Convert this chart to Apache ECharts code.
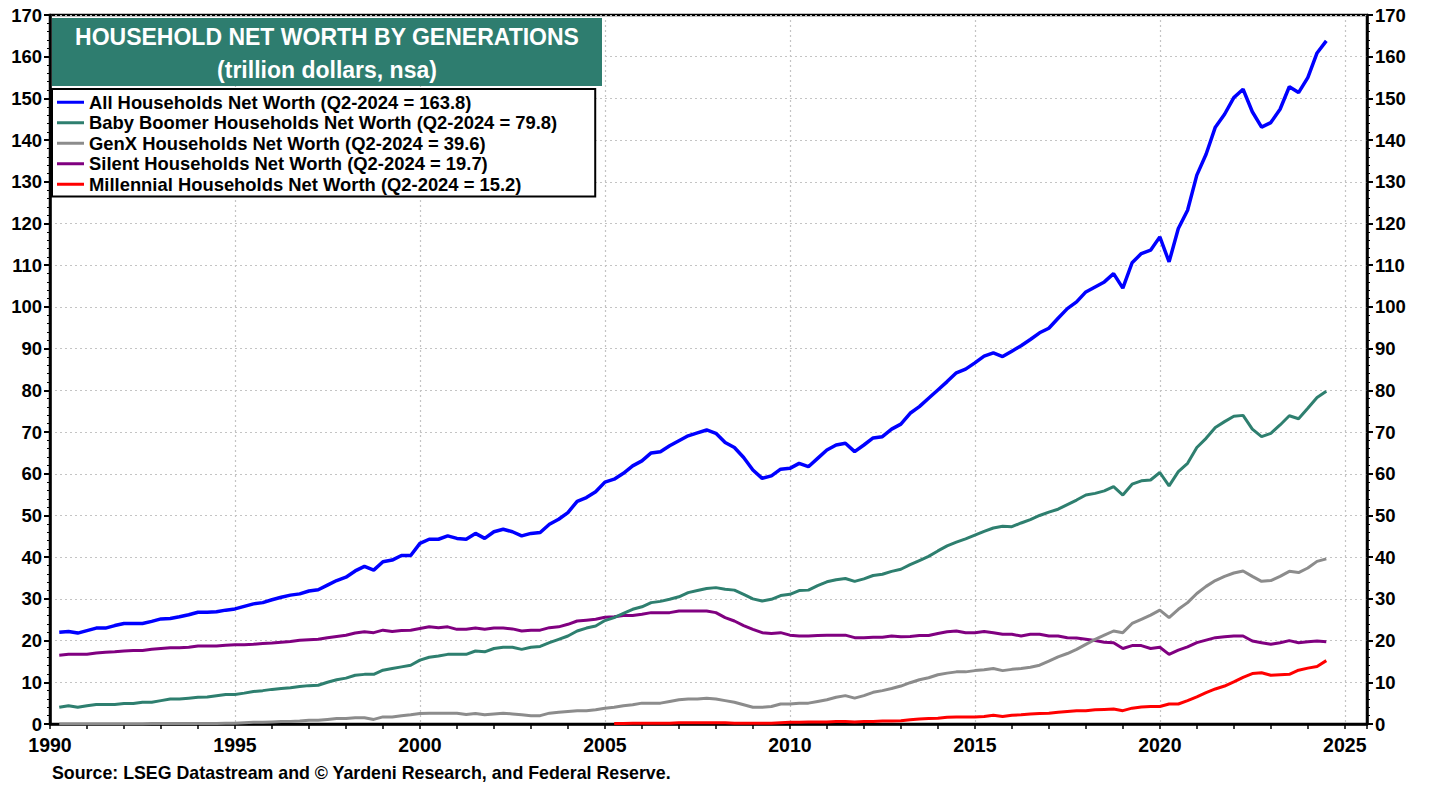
<!DOCTYPE html>
<html>
<head>
<meta charset="UTF-8">
<title>Household Net Worth by Generations</title>
<script src="https://cdn.jsdelivr.net/npm/echarts@6/dist/echarts.min.js"></script>
<style>
  html, body { margin: 0; padding: 0; background: #fff; }
  #main { width: 1438px; height: 787px; }
</style>
</head>
<body>
<div id="main"></div>
<script>
// quarterly values, trillion dollars, first value = Q1 of start year
var startYear = 1990;
var allHouseholds = [
  22.0, 22.2, 21.8, 22.4,  23.0, 23.0, 23.6, 24.1,  24.1, 24.1, 24.6, 25.2,  25.3, 25.7, 26.2, 26.8,
  26.8, 26.9, 27.3, 27.6,  28.2, 28.8, 29.1, 29.8,  30.4, 30.9, 31.2, 31.9,  32.2, 33.3, 34.4, 35.2,
  36.7, 37.8, 36.9, 38.9,  39.3, 40.4, 40.4, 43.3,  44.3, 44.3, 45.1, 44.5,  44.3, 45.7, 44.5, 46.1,
  46.7, 46.1, 45.1, 45.7,  45.9, 47.9, 49.1, 50.7,  53.4, 54.3, 55.7, 58.0,  58.7, 60.1, 61.9, 63.1,
  65.0, 65.3, 66.7, 67.9,  69.1, 69.8, 70.5, 69.7,  67.5, 66.3, 63.9, 60.9,  58.9, 59.5, 61.1, 61.3,
  62.5, 61.7, 63.7, 65.7,  66.9, 67.3, 65.3, 66.9,  68.6, 68.9, 70.7, 71.9,  74.5, 76.1, 78.1, 80.1,
  82.1, 84.2, 85.1, 86.6,  88.2, 89.0, 88.1, 89.4,  90.7, 92.2, 93.8, 94.9,  97.3, 99.6, 101.2, 103.6,
  104.8, 106.0, 108.0, 104.5,  110.6, 112.8, 113.6, 116.8,  110.8, 118.8, 123.2, 131.6,
  136.6, 143.1, 146.2, 150.2,  152.2, 146.8, 143.1, 144.2,  147.4, 152.8, 151.4, 155.0,  160.9, 163.8
];
var babyBoomer = [
  4.0, 4.4, 4.0, 4.4,  4.7, 4.7, 4.7, 4.9,  4.9, 5.2, 5.2, 5.6,  6.0, 6.0, 6.2, 6.4,
  6.5, 6.8, 7.1, 7.1,  7.4, 7.8, 8.0, 8.3,  8.5, 8.7, 9.0, 9.2,  9.3, 10.0, 10.6, 11.0,
  11.7, 11.9, 11.9, 12.9,  13.3, 13.7, 14.1, 15.3,  16.0, 16.3, 16.7, 16.7,  16.7, 17.5, 17.3, 18.1,
  18.4, 18.4, 17.9, 18.4,  18.6, 19.5, 20.3, 21.1,  22.3, 23.0, 23.5, 24.8,  25.5, 26.5, 27.5, 28.1,
  29.1, 29.4, 29.9, 30.5,  31.5, 32.0, 32.5, 32.7,  32.3, 32.1, 31.1, 30.0,  29.5, 29.9, 30.8, 31.1,
  32.0, 32.1, 33.2, 34.1,  34.6, 34.9, 34.2, 34.8,  35.6, 35.9, 36.6, 37.1,  38.2, 39.2, 40.2, 41.5,
  42.7, 43.6, 44.4, 45.3,  46.2, 47.0, 47.4, 47.3,  48.2, 49.0, 50.0, 50.8,  51.5, 52.6, 53.7, 54.9,
  55.3, 55.9, 56.9, 54.9,  57.5, 58.3, 58.5, 60.3,  57.1, 60.5, 62.5, 66.3,  68.5, 71.1, 72.5, 73.8,
  74.0, 70.7, 68.9, 69.7,  71.7, 73.9, 73.2, 75.7,  78.3, 79.8
];
var genX = [
  0.0, 0.0, 0.0, 0.0,  0.0, 0.0, 0.0, 0.0,  0.0, 0.0, 0.1, 0.1,  0.1, 0.1, 0.1, 0.1,
  0.1, 0.1, 0.2, 0.2,  0.3, 0.4, 0.4, 0.5,  0.6, 0.6, 0.7, 0.9,  0.9, 1.1, 1.3, 1.3,
  1.5, 1.5, 1.1, 1.7,  1.7, 2.0, 2.2, 2.5,  2.6, 2.6, 2.6, 2.6,  2.3, 2.5, 2.2, 2.4,
  2.6, 2.4, 2.2, 2.0,  2.0, 2.6, 2.8, 3.0,  3.2, 3.2, 3.4, 3.8,  4.0, 4.4, 4.6, 5.0,
  5.0, 5.0, 5.4, 5.8,  6.0, 6.0, 6.2, 6.0,  5.6, 5.2, 4.6, 4.0,  4.0, 4.2, 4.8, 4.8,
  5.0, 5.0, 5.4, 5.8,  6.4, 6.8, 6.2, 6.8,  7.6, 8.0, 8.5, 9.1,  9.9, 10.6, 11.1, 11.8,
  12.2, 12.5, 12.5, 12.8,  13.0, 13.3, 12.8, 13.1,  13.3, 13.6, 14.1, 15.1,  16.1, 16.9, 17.9, 19.1,
  20.3, 21.3, 22.3, 21.9,  24.1, 25.1, 26.1, 27.3,  25.5, 27.5, 29.1, 31.3,  33.0, 34.4, 35.4, 36.2,
  36.7, 35.4, 34.2, 34.4,  35.4, 36.6, 36.3, 37.4,  39.0, 39.6
];
var silent = [
  16.5, 16.7, 16.7, 16.7,  17.0, 17.2, 17.3, 17.5,  17.6, 17.6, 17.9, 18.1,  18.3, 18.3, 18.4, 18.7,
  18.7, 18.7, 18.9, 19.0,  19.0, 19.1, 19.3, 19.4,  19.6, 19.8, 20.1, 20.2,  20.3, 20.7, 21.0, 21.3,
  21.8, 22.1, 21.9, 22.5,  22.2, 22.4, 22.5, 22.9,  23.3, 23.1, 23.3, 22.7,  22.7, 23.0, 22.7, 23.0,
  23.0, 22.8, 22.3, 22.5,  22.5, 23.1, 23.3, 23.9,  24.7, 24.9, 25.1, 25.6,  25.7, 26.0, 26.0, 26.3,
  26.7, 26.7, 26.7, 27.1,  27.1, 27.1, 27.1, 26.7,  25.5, 24.7, 23.6, 22.7,  21.9, 21.7, 21.9, 21.3,
  21.1, 21.1, 21.2, 21.3,  21.3, 21.3, 20.7, 20.7,  20.8, 20.8, 21.1, 20.9,  21.0, 21.2, 21.2, 21.7,
  22.1, 22.3, 21.9, 21.9,  22.2, 21.9, 21.5, 21.5,  21.1, 21.5, 21.5, 21.1,  21.1, 20.7, 20.6, 20.3,
  20.0, 19.6, 19.5, 18.1,  18.8, 18.8, 18.1, 18.4,  16.7, 17.7, 18.5, 19.5,  20.1, 20.7, 20.9, 21.1,
  21.1, 19.9, 19.5, 19.1,  19.5, 20.0, 19.5, 19.7,  19.9, 19.7
];
// millennials start in 2005
var millennialStart = 2005;
var millennial = [
  0.1, 0.1, 0.2, 0.2,  0.2, 0.2, 0.2, 0.3,  0.3, 0.3, 0.3, 0.3,  0.3, 0.2, 0.2, 0.2,
  0.2, 0.2, 0.3, 0.4,  0.4, 0.5, 0.5, 0.5,  0.6, 0.6, 0.5, 0.6,  0.6, 0.7, 0.7, 0.8,
  1.0, 1.2, 1.3, 1.4,  1.6, 1.7, 1.7, 1.7,  1.8, 2.1, 1.8, 2.1,  2.2, 2.4, 2.5, 2.6,
  2.8, 3.0, 3.2, 3.2,  3.4, 3.5, 3.6, 3.2,  3.8, 4.1, 4.2, 4.2,  4.8, 4.8, 5.6, 6.5,
  7.5, 8.4, 9.1, 10.1,  11.2, 12.1, 12.3, 11.7,  11.8, 11.9, 12.9, 13.4,  13.8, 15.2
];
var seriesNames = [
  'All Households Net Worth (Q2-2024 = 163.8)',
  'Baby Boomer Households Net Worth (Q2-2024 = 79.8)',
  'GenX Households Net Worth (Q2-2024 = 39.6)',
  'Silent Households Net Worth (Q2-2024 = 19.7)',
  'Millennial Households Net Worth (Q2-2024 = 15.2)'
];
var colors = ['#0000ff', '#2e7f6f', '#8c8c8c', '#800080', '#ff0000'];
var yTicks = { min: 0, max: 170, step: 10 };
var xTicks = { min: 1990, max: 2025.6, step: 5 };

// quarter plotted at its end: Q1 -> year + 0.25
function quarterly(year0, values) {
  return values.map(function (v, i) { return [year0 + (i + 1) * 0.25, v]; });
}

var FONT = '"Liberation Sans", Arial, sans-serif';
var chart = echarts.init(document.getElementById('main'), null, { renderer: 'svg' });

var dataSets = [
  quarterly(startYear, allHouseholds),
  quarterly(startYear, babyBoomer),
  quarterly(startYear, genX),
  quarterly(startYear, silent),
  quarterly(millennialStart, millennial)
];
var widths = [3.5, 3, 3, 3, 3];

var yAxisBase = {
  type: 'value', min: yTicks.min, max: yTicks.max, interval: yTicks.step,
  axisLine: { show: true, lineStyle: { color: '#000', width: 2.5 } },
  axisTick: { show: true, length: 6, lineStyle: { color: '#000', width: 2 } },
  minorTick: { show: true, splitNumber: 5, length: 3, lineStyle: { color: '#000', width: 1 } },
  axisLabel: { color: '#000', fontFamily: FONT, fontWeight: 'bold', fontSize: 18.5, margin: 8 },
  splitLine: { show: false }
};

var option = {
  animation: false,
  backgroundColor: '#fff',
  grid: { left: 50, right: 71, top: 15, bottom: 63, show: true, borderColor: '#000', borderWidth: 2.5 },
  xAxis: [{
    type: 'value', min: xTicks.min, max: xTicks.max, interval: xTicks.step,
    axisLine: { show: true, lineStyle: { color: '#000', width: 2.5 } },
    axisTick: { show: false },
    axisLabel: {
      color: '#000', fontFamily: FONT, fontWeight: 'bold', fontSize: 19.5, margin: 11,
      formatter: function (v) { return v % 5 === 0 ? String(v) : ''; }
    },
    splitLine: { show: true, lineStyle: { color: '#c4c4c4', width: 1.2, type: [2, 3] } }
  }, {
    type: 'value', min: xTicks.min, max: xTicks.max, interval: 1, position: 'bottom',
    axisLine: { show: false },
    axisTick: { show: true, length: 5, lineStyle: { color: '#000', width: 1.5 } },
    axisLabel: { show: false },
    splitLine: { show: false }
  }],
  yAxis: [
    Object.assign({}, yAxisBase, {
      position: 'left',
      splitLine: { show: true, lineStyle: { color: '#c4c4c4', width: 1.2, type: [2, 3] } }
    }),
    Object.assign({}, yAxisBase, { position: 'right' })
  ],
  legend: {
    orient: 'vertical', left: 52, top: 89,
    backgroundColor: '#fff', borderColor: '#000', borderWidth: 2,
    padding: [3, 38, 2, 5], itemGap: 0,
    icon: 'rect', itemWidth: 27, itemHeight: 3,
    textStyle: { color: '#000', fontFamily: FONT, fontWeight: 'bold', fontSize: 18.4, lineHeight: 20.5 },
    data: seriesNames
  },
  graphic: [
    { type: 'rect', left: 52, top: 18, shape: { width: 550, height: 68 }, style: { fill: '#2e7d6f' }, z: 10 },
    { type: 'text', x: 327, y: 37, z: 11,
      style: { text: 'HOUSEHOLD NET WORTH BY GENERATIONS', fill: '#fff', font: 'bold 23px ' + FONT,
               textAlign: 'center', textVerticalAlign: 'middle' } },
    { type: 'text', x: 327, y: 70, z: 11,
      style: { text: '(trillion dollars, nsa)', fill: '#fff', font: 'bold 23px ' + FONT,
               textAlign: 'center', textVerticalAlign: 'middle' } },
    { type: 'text', left: 52, top: 764,
      style: { text: 'Source: LSEG Datastream and \u00a9 Yardeni Research, and Federal Reserve.', fill: '#000',
               font: 'bold 17.8px ' + FONT } }
  ],
  series: seriesNames.map(function (name, i) {
    return {
      name: name, type: 'line', xAxisIndex: 0, yAxisIndex: 0,
      data: dataSets[i], showSymbol: false, symbol: 'none',
      color: colors[i],
      lineStyle: { color: colors[i], width: widths[i] },
      z: 10 - i
    };
  })
};

chart.setOption(option);
</script>
</body>
</html>
